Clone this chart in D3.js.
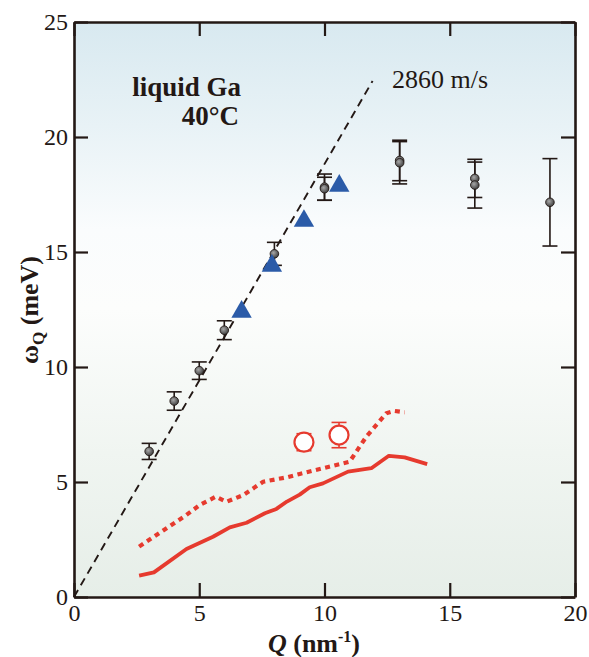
<!DOCTYPE html>
<html>
<head>
<meta charset="utf-8">
<script src="https://cdn.jsdelivr.net/npm/d3@7"></script>
<style>
  html, body { margin: 0; padding: 0; background: #ffffff; }
  svg { display: block; }
  text { font-family: "Liberation Serif", "Times New Roman", serif; fill: #231815; }
</style>
</head>
<body>
<svg id="chart" width="589" height="657"></svg>
<script>
// Dispersion of the longitudinal excitation in liquid Ga at 40°C

// Inelastic X-ray scattering points (Q in nm^-1, energy in meV, error in meV)
const ixsQ   = [3, 4, 5, 6, 8, 10, 10, 13, 13, 16, 16, 19];
const ixsW   = [6.33, 8.52, 9.84, 11.6, 14.92, 17.82, 17.75, 18.98, 18.88, 18.2, 17.91, 17.16];
const ixsErr = [0.35, 0.4, 0.38, 0.41, 0.5, 0.57, 0.5, 0.88, 0.92, 0.83, 1.0, 1.9];

// Blue triangles
const triQ = [6.69, 7.9, 9.18, 10.59];
const triW = [12.4, 14.4, 16.35, 17.88];

// Open red circles with error bars
const circQ   = [9.18, 10.58];
const circW   = [6.73, 7.04];
const circErr = [0.37, 0.55];

// Red solid curve
const solidQ = [2.6, 3.19, 4.49, 5.55, 6.22, 6.89, 7.62, 8.08, 8.5, 9.01, 9.41, 9.94, 10.94, 11.87, 12.57, 13.2, 14.1];
const solidW = [0.93, 1.07, 2.09, 2.62, 3.03, 3.23, 3.64, 3.83, 4.15, 4.45, 4.77, 4.94, 5.45, 5.6, 6.14, 6.07, 5.78];

// Red dotted curve
const dotQ = [2.6, 4.49, 5.02, 5.66, 6.09, 6.75, 7.55, 8.48, 9.01, 11.0, 11.67, 12.47, 12.8, 13.2];
const dotW = [2.19, 3.57, 4.0, 4.36, 4.14, 4.43, 5.01, 5.2, 5.35, 5.88, 6.97, 7.99, 8.09, 8.03];

// Sound line: omega = hbar * v * Q, v = 2860 m/s = 2.86 nm/ps, hbar = 0.6582 meV ps
const soundSpeed = 2860;
const hbar = 0.6582;
const soundQ = [0, 11.92];

const xTicks = [0, 5, 10, 15, 20];
const yTicks = [0, 5, 10, 15, 20, 25];

const ink = "#231815";
const red = "#e63a2e";
const blue = "#2b5ba8";

const margin = { top: 22, right: 14, bottom: 60, left: 74 };
const W = 589, H = 657;
const svg = d3.select("#chart");

const x = d3.scaleLinear().domain([0, 20]).range([margin.left, W - margin.right]);
const y = d3.scaleLinear().domain([0, 25]).range([H - margin.bottom, margin.top]);

const defs = svg.append("defs");
const bg = defs.append("linearGradient").attr("id", "bg")
  .attr("x1", 0).attr("y1", 0).attr("x2", 0).attr("y2", 1);
[[0, "#d8e9f0"], [0.18, "#e8f2f6"], [0.36, "#fafcfd"], [0.5, "#fcfdfc"], [0.75, "#f0f5f1"], [1, "#e6eee8"]]
  .forEach(([o, c]) => bg.append("stop").attr("offset", o).attr("stop-color", c));

const ball = defs.append("radialGradient").attr("id", "ball")
  .attr("cx", 0.4).attr("cy", 0.38).attr("r", 0.65);
ball.append("stop").attr("offset", 0).attr("stop-color", "#a8a8a8");
ball.append("stop").attr("offset", 1).attr("stop-color", "#3c3c3c");

// plot background
svg.append("rect")
  .attr("x", x(0)).attr("y", y(25))
  .attr("width", x(20) - x(0)).attr("height", y(0) - y(25))
  .attr("fill", "url(#bg)");

// frame with inward ticks on all four sides
function styleAxis(g) {
  g.selectAll(".domain").attr("stroke", ink).attr("stroke-width", 2.6);
  g.selectAll(".tick line").attr("stroke", ink).attr("stroke-width", 2.2);
  g.selectAll(".tick text").attr("font-size", 24).style("fill", ink)
    .attr("font-family", "Liberation Serif, Times New Roman, serif");
}

svg.append("g").attr("transform", `translate(0,${y(0)})`)
  .call(d3.axisBottom(x).tickValues(xTicks).tickSizeInner(-14).tickSizeOuter(0).tickPadding(7))
  .call(styleAxis);
svg.append("g").attr("transform", `translate(0,${y(25)})`)
  .call(d3.axisTop(x).tickValues(xTicks).tickFormat("").tickSizeInner(-14).tickSizeOuter(0))
  .call(styleAxis);
svg.append("g").attr("transform", `translate(${x(0)},0)`)
  .call(d3.axisLeft(y).tickValues(yTicks).tickSizeInner(-14).tickSizeOuter(0).tickPadding(6))
  .call(styleAxis);
svg.append("g").attr("transform", `translate(${x(20)},0)`)
  .call(d3.axisRight(y).tickValues(yTicks).tickFormat("").tickSizeInner(-14).tickSizeOuter(0))
  .call(styleAxis);

const line = d3.line().x(d => x(d[0])).y(d => y(d[1]));

// sound velocity line
svg.append("path")
  .datum(soundQ.map(q => [q, hbar * soundSpeed / 1000 * q]))
  .attr("d", line)
  .attr("fill", "none").attr("stroke", ink).attr("stroke-width", 1.9)
  .attr("stroke-dasharray", "8,5.5");

// red curves
svg.append("path")
  .datum(dotQ.map((q, i) => [q, dotW[i]]))
  .attr("d", line)
  .attr("fill", "none").attr("stroke", red).attr("stroke-width", 4.2)
  .attr("stroke-dasharray", "5,4.5").attr("stroke-linejoin", "round");
svg.append("path")
  .datum(solidQ.map((q, i) => [q, solidW[i]]))
  .attr("d", line)
  .attr("fill", "none").attr("stroke", red).attr("stroke-width", 3.8)
  .attr("stroke-linejoin", "round");

// red open circles with error bars
const capHalf = 7.5;
circQ.forEach((q, i) => {
  const g = svg.append("g").attr("stroke", red).attr("stroke-width", 1.6).attr("fill", "none");
  const cx = x(q), top = y(circW[i] + circErr[i]), bot = y(circW[i] - circErr[i]);
  g.append("line").attr("x1", cx).attr("x2", cx).attr("y1", top).attr("y2", bot);
  g.append("line").attr("x1", cx - capHalf).attr("x2", cx + capHalf).attr("y1", top).attr("y2", top);
  g.append("line").attr("x1", cx - capHalf).attr("x2", cx + capHalf).attr("y1", bot).attr("y2", bot);
  g.append("circle").attr("cx", cx).attr("cy", y(circW[i])).attr("r", 9.5)
    .attr("fill", "#ffffff").attr("stroke-width", 2.2);
});

// grey points with error bars
ixsQ.forEach((q, i) => {
  const g = svg.append("g").attr("stroke", ink).attr("stroke-width", 1.6);
  const cx = x(q), top = y(ixsW[i] + ixsErr[i]), bot = y(ixsW[i] - ixsErr[i]);
  g.append("line").attr("x1", cx).attr("x2", cx).attr("y1", top).attr("y2", bot);
  g.append("line").attr("x1", cx - capHalf).attr("x2", cx + capHalf).attr("y1", top).attr("y2", top);
  g.append("line").attr("x1", cx - capHalf).attr("x2", cx + capHalf).attr("y1", bot).attr("y2", bot);
});
ixsQ.forEach((q, i) => {
  svg.append("circle").attr("cx", x(q)).attr("cy", y(ixsW[i])).attr("r", 4.3)
    .attr("fill", "url(#ball)").attr("stroke", ink).attr("stroke-width", 0.9);
});

// blue triangles
const tri = d3.symbol().type(d3.symbolTriangle).size(180);
triQ.forEach((q, i) => {
  svg.append("path").attr("d", tri)
    .attr("transform", `translate(${x(q)},${y(triW[i])})`)
    .attr("fill", blue);
});

// annotations
svg.append("text").attr("x", 241).attr("y", 96).attr("text-anchor", "end")
  .attr("font-size", 27).attr("font-weight", "bold").text("liquid Ga");
svg.append("text").attr("x", 239).attr("y", 125).attr("text-anchor", "end")
  .attr("font-size", 27).attr("font-weight", "bold").text("40°C");
svg.append("text").attr("x", 392).attr("y", 88)
  .attr("font-size", 26).text("2860 m/s");

// axis titles
const xl = svg.append("text").attr("x", 314).attr("y", 652).attr("text-anchor", "middle")
  .attr("font-size", 26).attr("font-weight", "bold");
xl.append("tspan").attr("font-style", "italic").text("Q");
xl.append("tspan").text(" (nm");
xl.append("tspan").attr("font-size", 16).attr("dy", -10).text("-1");
xl.append("tspan").attr("dy", 10).text(")");

const yl = svg.append("text")
  .attr("transform", `translate(38,${310}) rotate(-90)`)
  .attr("text-anchor", "middle").attr("font-size", 26).attr("font-weight", "bold");
yl.append("tspan").text("ω");
yl.append("tspan").attr("font-size", 17).attr("dy", 6).text("Q");
yl.append("tspan").attr("dy", -6).text(" (meV)");
</script>
</body>
</html>
